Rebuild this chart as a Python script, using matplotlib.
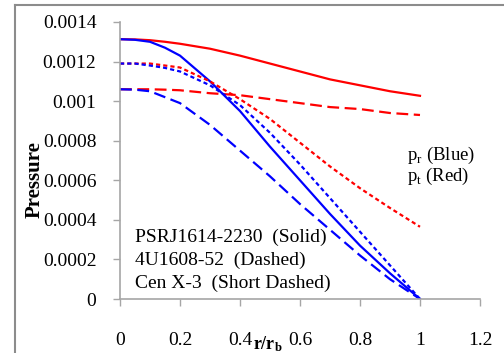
import numpy as np
from matplotlib import pyplot as plt
from matplotlib.lines import Line2D

plt.rcParams['font.family'] = ['Liberation Serif', 'DejaVu Serif']
plt.rcParams['mathtext.fontset'] = 'custom'
plt.rcParams['mathtext.rm'] = 'Liberation Serif'
plt.rcParams['mathtext.bf'] = 'Liberation Serif:bold'
plt.rcParams['lines.scale_dashes'] = False

# radial coordinate r/r_b
r = [0, 0.05, 0.1, 0.15, 0.2, 0.3, 0.4, 0.5, 0.6, 0.7, 0.8, 0.9, 1.0]

# PSRJ1614-2230 (solid)
pr_psr = [0.001313, 0.00131, 0.0013, 0.00127, 0.00123, 0.00110, 0.00095, 0.00077, 0.00060, 0.00043, 0.00027, 0.00013, 0.0]
pt_psr = [0.001313, 0.001312, 0.001308, 0.0013, 0.00129, 0.001265, 0.00123, 0.00119, 0.00115, 0.00111, 0.00108, 0.00105, 0.001027]

# 4U1608-52 (dashed)
pr_4u = [0.00106, 0.001058, 0.00105, 0.00102, 0.00099, 0.00088, 0.00075, 0.00062, 0.00048, 0.00035, 0.00022, 0.00010, 0.0]
pt_4u = [0.00106, 0.00106, 0.00106, 0.001058, 0.001055, 0.00104, 0.00103, 0.00101, 0.00099, 0.00097, 0.00096, 0.00094, 0.00093]

# Cen X-3 (short dashed)
pr_cen = [0.00119, 0.00119, 0.00118, 0.001168, 0.00115, 0.00108, 0.00098, 0.00084, 0.00068, 0.00051, 0.00034, 0.00017, 0.0]
pt_cen = [0.00119, 0.00119, 0.00119, 0.00118, 0.00117, 0.00110, 0.00101, 0.00091, 0.00079, 0.00067, 0.00056, 0.00046, 0.000365]

xticks = [0, 0.2, 0.4, 0.6, 0.8, 1, 1.2]
xticklabels = ['0', '0.2', '0.4', '0.6', '0.8', '1', '1.2']
yticks = [0, 0.0002, 0.0004, 0.0006, 0.0008, 0.001, 0.0012, 0.0014]
yticklabels = ['0', '0.0002', '0.0004', '0.0006', '0.0008', '0.001', '0.0012', '0.0014']

fig = plt.figure(figsize=(5.04, 3.53), dpi=100)
ax = fig.add_axes([120/504, 54/353, 360/504, 277/353])

lw = 1.6
long_dash = (8.5, 4.0)
short_dash = (3.0, 2.2)

ax.plot(r, pt_psr, color='#ff0000', lw=lw)
ax.plot(r, pr_psr, color='#0000ff', lw=lw)
ax.plot(r, pt_4u, color='#ff0000', lw=lw, dashes=long_dash)
ax.plot(r, pr_4u, color='#0000ff', lw=lw, dashes=long_dash)
ax.plot(r, pt_cen, color='#ff0000', lw=lw, dashes=short_dash)
ax.plot(r, pr_cen, color='#0000ff', lw=lw, dashes=short_dash)

ax.set_xlim(0, 1.2)
ax.set_ylim(0, 0.0014)
ax.set_xticks(xticks)
ax.set_xticklabels(xticklabels)
ax.set_yticks(yticks)
ax.set_yticklabels(yticklabels)

for s in ['top', 'right']:
    ax.spines[s].set_visible(False)
for s in ['left', 'bottom']:
    ax.spines[s].set_color('#a6a6a6')
    ax.spines[s].set_linewidth(1.2)
ax.tick_params(direction='out', length=5, width=1, color='#a6a6a6',
               labelsize=14, labelcolor='black')
ax.tick_params(axis='x', pad=19)
ax.tick_params(axis='y', pad=12)

# axis titles
fig.text(35/504, 1 - 180/353, 'Pressure', rotation=90, ha='center', va='center',
         fontsize=15, fontweight='bold')
fig.text(268/504, 1 - 344/353, r'$\mathbf{r/r_b}$', ha='center', va='center',
         fontsize=13)

# legend text
ax.text(135/504, 1 - 237/353, 'PSRJ1614-2230  (Solid)', transform=fig.transFigure,
        fontsize=14, va='center')
ax.text(135/504, 1 - 260/353, '4U1608-52  (Dashed)', transform=fig.transFigure,
        fontsize=14, va='center')
ax.text(135/504, 1 - 283/353, 'Cen X-3  (Short Dashed)', transform=fig.transFigure,
        fontsize=14, va='center')
ax.text(407/504, 1 - 155/353, r'p$_\mathrm{r}$ (Blue)', transform=fig.transFigure,
        fontsize=13.5, va='center')
ax.text(407/504, 1 - 176/353, r'p$_\mathrm{t}$ (Red)', transform=fig.transFigure,
        fontsize=13.5, va='center')

# outer chart border
fig.add_artist(Line2D([15/504, 15/504], [0, 1 - 5/353], transform=fig.transFigure,
                      color='#8c8c8c', lw=1.5))
fig.add_artist(Line2D([15/504, 1], [1 - 5/353, 1 - 5/353], transform=fig.transFigure,
                      color='#8c8c8c', lw=1.5))

plt.savefig('out.png', dpi=100)
